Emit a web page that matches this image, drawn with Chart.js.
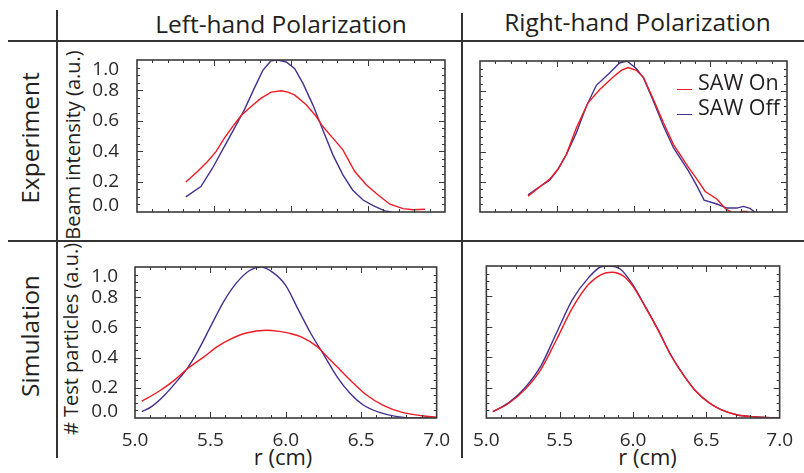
<!DOCTYPE html>
<html><head><meta charset="utf-8">
<script src="https://cdn.jsdelivr.net/npm/chart.js@4/dist/chart.umd.min.js"></script>
<style>
html,body{margin:0;padding:0;background:#fff;}
#wrap{position:relative;width:804px;height:473px;overflow:hidden;font-family:'Open Sans',sans-serif;color:#231f20;}
canvas{position:absolute;}
.ln{position:absolute;background:#333;}
.t{position:absolute;white-space:nowrap;line-height:1;}
.c{transform:translate(-50%,-50%);}
.r{transform:translate(-50%,-50%) rotate(-90deg);}
</style></head><body><div id="wrap">
<div class="ln" style="left:56px;top:10px;width:2px;height:448px"></div>
<div class="ln" style="left:461px;top:13px;width:2px;height:445px"></div>
<div class="ln" style="left:8px;top:40px;width:796px;height:2px"></div>
<div class="ln" style="left:8px;top:240px;width:796px;height:2px"></div>

<div class="t c" style="left:281px;top:24.2px;font-size:24.5px">Left-hand Polarization</div>
<div class="t c" style="left:637.5px;top:21.7px;font-size:24.5px">Right-hand Polarization</div>
<div class="t r" style="left:30px;top:137.5px;font-size:24.5px">Experiment</div>
<div class="t r" style="left:30px;top:336px;font-size:24.5px">Simulation</div>
<div class="t r" style="left:72.5px;top:145px;font-size:20px">Beam intensity (a.u.)</div>
<div class="t r" style="left:70.5px;top:339px;font-size:20px"># Test particles (a.u.)</div>
<div class="t c" style="left:283px;top:456px;font-size:22px">r (cm)</div>
<div class="t c" style="left:647.5px;top:456px;font-size:22px">r (cm)</div>

<canvas id="tl" width="378" height="227" style="left:85px;top:20px"></canvas>
<canvas id="tr" width="339" height="193" style="left:465px;top:39px"></canvas>
<canvas id="bl" width="378" height="226" style="left:83px;top:227px"></canvas>
<canvas id="br" width="342" height="204" style="left:462px;top:244px"></canvas>

<div class="ln" style="left:677px;top:88.5px;width:15px;height:1.5px;background:#ec1c24"></div>
<div class="t" style="left:698px;top:71.4px;font-size:21.5px">SAW On</div>
<div class="ln" style="left:677px;top:113.5px;width:15px;height:1.5px;background:#45308f"></div>
<div class="t" style="left:698px;top:96.1px;font-size:21.5px">SAW Off</div>
</div>
<script>
// ---- data (r in cm, intensity in a.u.) ----
const rTickValues = [5.0, 5.5, 6.0, 6.5, 7.0];
const rTickLabels = ['5.0', '5.5', '6.0', '6.5', '7.0'];
const yTickValues = [0, 0.2, 0.4, 0.6, 0.8, 1.0];
const yTickLabels = ['0.0', '0.2', '0.4', '0.6', '0.8', '1.0'];

// Experiment, left-hand polarization
const expLeftOffR = [5.317, 5.415, 5.49, 5.567, 5.632, 5.697, 5.762, 5.816, 5.87, 5.914, 5.969, 6.023, 6.077, 6.142, 6.207, 6.272, 6.337, 6.40, 6.468, 6.533, 6.609, 6.653];
const expLeftOff  = [0.10, 0.167, 0.288, 0.43, 0.55, 0.672, 0.815, 0.93, 0.995, 1.0, 0.987, 0.945, 0.848, 0.705, 0.54, 0.376, 0.244, 0.145, 0.079, 0.042, 0.007, 0.0];
const expLeftOnR  = [5.317, 5.393, 5.458, 5.513, 5.567, 5.621, 5.676, 5.741, 5.806, 5.871, 5.936, 5.98, 6.023, 6.099, 6.164, 6.207, 6.272, 6.337, 6.414, 6.49, 6.566, 6.642, 6.728, 6.793, 6.87];
const expLeftOn   = [0.198, 0.266, 0.332, 0.397, 0.486, 0.562, 0.635, 0.694, 0.749, 0.789, 0.798, 0.789, 0.77, 0.705, 0.628, 0.562, 0.486, 0.409, 0.266, 0.178, 0.112, 0.051, 0.022, 0.015, 0.018];

// Experiment, right-hand polarization
const expRightOffR = [5.313, 5.367, 5.454, 5.508, 5.563, 5.628, 5.693, 5.758, 5.844, 5.909, 5.957, 6.018, 6.065, 6.13, 6.195, 6.26, 6.358, 6.413, 6.46, 6.543, 6.608, 6.673, 6.716, 6.759, 6.79];
const expRightOff  = [0.114, 0.152, 0.211, 0.283, 0.382, 0.525, 0.70, 0.839, 0.92, 0.987, 1.0, 0.95, 0.888, 0.734, 0.569, 0.426, 0.272, 0.173, 0.079, 0.053, 0.026, 0.026, 0.037, 0.024, 0.0];
const expRightOnR  = [5.313, 5.454, 5.508, 5.563, 5.628, 5.704, 5.78, 5.866, 5.92, 5.964, 6.018, 6.065, 6.13, 6.195, 6.26, 6.358, 6.413, 6.467, 6.543, 6.60, 6.63, 6.67, 6.70, 6.74, 6.77];
const expRightOn   = [0.105, 0.218, 0.283, 0.382, 0.558, 0.723, 0.811, 0.892, 0.938, 0.957, 0.938, 0.892, 0.745, 0.591, 0.448, 0.295, 0.218, 0.136, 0.086, 0.02, 0.004, -0.04, 0.004, 0.004, -0.04];

// Simulation, left-hand polarization
const simLeftOffR = [5.045, 5.11, 5.197, 5.284, 5.349, 5.414, 5.5, 5.586, 5.673, 5.76, 5.836, 5.911, 5.998, 6.08, 6.167, 6.253, 6.34, 6.427, 6.513, 6.621, 6.729, 6.859, 7.0];
const simLeftOff  = [0.042, 0.075, 0.152, 0.251, 0.332, 0.438, 0.603, 0.768, 0.895, 0.977, 1.0, 0.966, 0.88, 0.723, 0.558, 0.416, 0.273, 0.162, 0.086, 0.037, 0.011, 0.0, 0.0];
const simLeftOnR  = [5.045, 5.154, 5.262, 5.349, 5.457, 5.543, 5.63, 5.738, 5.868, 5.955, 6.02, 6.102, 6.21, 6.264, 6.34, 6.427, 6.535, 6.643, 6.773, 6.903, 7.0];
const simLeftOn   = [0.112, 0.174, 0.251, 0.328, 0.405, 0.471, 0.521, 0.563, 0.581, 0.574, 0.562, 0.537, 0.471, 0.416, 0.339, 0.251, 0.152, 0.086, 0.037, 0.015, 0.006];

// Simulation, right-hand polarization
const simRightOffR = [5.044, 5.153, 5.261, 5.37, 5.478, 5.587, 5.696, 5.783, 5.837, 5.913, 5.995, 6.082, 6.17, 6.256, 6.343, 6.43, 6.517, 6.604, 6.713, 6.821, 7.0];
const simRightOff  = [0.042, 0.101, 0.196, 0.339, 0.559, 0.779, 0.922, 0.995, 1.0, 0.98, 0.882, 0.737, 0.583, 0.418, 0.286, 0.176, 0.102, 0.054, 0.02, 0.009, 0.0];
const simRightOnR  = [5.044, 5.153, 5.261, 5.37, 5.478, 5.587, 5.696, 5.783, 5.858, 5.935, 5.995, 6.082, 6.17, 6.256, 6.343, 6.43, 6.517, 6.604, 6.713, 6.821, 7.0];
const simRightOn   = [0.042, 0.097, 0.185, 0.317, 0.515, 0.724, 0.878, 0.944, 0.959, 0.933, 0.872, 0.733, 0.58, 0.416, 0.284, 0.174, 0.101, 0.053, 0.02, 0.009, 0.0];

// ---- styling ----
const RED = '#ec1c24', BLUE = '#45308f', INK = '#2a2a2a';
const FONT = "'Open Sans', sans-serif";
const xMinorStep = 0.1, yMinorStep = 0.05;

const frame = {
  id: 'frame',
  afterDatasetsDraw(chart) {
    const { ctx, chartArea: a, scales: { x, y } } = chart;
    ctx.save();
    ctx.strokeStyle = '#3a3a3a';
    ctx.lineWidth = 1;
    ctx.beginPath();
    const nx = Math.round((x.max - x.min) / xMinorStep);
    for (let i = 1; i < nx; i++) {
      const v = x.min + i * xMinorStep;
      const px = Math.round(x.getPixelForValue(v)) + 0.5;
      const L = (i % 5 === 0) ? 6 : 3;
      ctx.moveTo(px, a.bottom); ctx.lineTo(px, a.bottom - L);
      ctx.moveTo(px, a.top); ctx.lineTo(px, a.top + L);
    }
    const ny = Math.round((y.max - y.min) / yMinorStep);
    for (let i = 1; i < ny; i++) {
      const v = y.min + i * yMinorStep;
      const py = Math.round(y.getPixelForValue(v)) + 0.5;
      const L = (i % 4 === 0) ? 6 : 3;
      ctx.moveTo(a.left, py); ctx.lineTo(a.left + L, py);
      ctx.moveTo(a.right, py); ctx.lineTo(a.right - L, py);
    }
    ctx.stroke();
    ctx.lineWidth = 1.6;
    ctx.strokeRect(a.left, a.top, a.right - a.left, a.bottom - a.top);
    ctx.restore();
  }
};

function pts(rs, vs) { return rs.map((r, i) => ({ x: r, y: vs[i] })); }

function panel(id, onR, on, offR, off, smooth, o) {
  const ds = (label, d, color) => ({
    label, data: d, borderColor: color, backgroundColor: color, borderWidth: 1.4,
    pointRadius: 0, fill: false, tension: 0,
    cubicInterpolationMode: smooth ? 'monotone' : 'default'
  });
  new Chart(document.getElementById(id), {
    type: 'line',
    data: { datasets: [ds('SAW On', pts(onR, on), RED), ds('SAW Off', pts(offR, off), BLUE)] },
    options: {
      responsive: false, animation: false, events: [],
      layout: { padding: { top: o.padTop, right: o.padRight, left: 0, bottom: 0 } },
      plugins: { legend: { display: false }, tooltip: { enabled: false } },
      scales: {
        x: {
          type: 'linear', min: 5, max: 7,
          afterBuildTicks: s => { s.ticks = rTickValues.map(v => ({ value: v })); },
          afterFit: s => { s.height = o.xH; },
          grid: { display: false, drawTicks: false }, border: { display: false },
          ticks: { display: o.xLabels, autoSkip: false, maxRotation: 0, padding: o.xPad, color: INK,
                   font: { family: FONT, size: 19 }, callback: (v, i) => rTickLabels[i] }
        },
        y: {
          type: 'linear', min: 0, max: 1,
          afterBuildTicks: s => { s.ticks = yTickValues.map(v => ({ value: v })); },
          afterFit: s => { s.width = o.yW; },
          grid: { display: false, drawTicks: false }, border: { display: false },
          ticks: { display: o.yLabels, autoSkip: false, padding: o.yPad, color: INK,
                   font: c => ({ family: FONT, size: 19,
                     lineHeight: c.index === yTickValues.length - 1 ? 1.0 : (c.index === 0 ? 0.68 : 1.2) }),
                   callback: (v, i) => i === yTickValues.length - 1 ? ['', yTickLabels[i]]
                                     : (i === 0 ? [yTickLabels[i], ''] : yTickLabels[i]) }
        }
      }
    },
    plugins: [frame]
  });
}

panel('tl', expLeftOnR, expLeftOn, expLeftOffR, expLeftOff, false,
      { padTop: 40, padRight: 18, xH: 35, yW: 52, xLabels: false, yLabels: true, xPad: 9, yPad: 18 });
panel('tr', expRightOnR, expRightOn, expRightOffR, expRightOff, false,
      { padTop: 22, padRight: 17, xH: 20, yW: 15, xLabels: false, yLabels: false, xPad: 9, yPad: 18 });
panel('bl', simLeftOnR, simLeftOn, simLeftOffR, simLeftOff, true,
      { padTop: 40, padRight: 18, xH: 35, yW: 52, xLabels: true, yLabels: true, xPad: 11, yPad: 17 });
panel('br', simRightOnR, simRightOn, simRightOffR, simRightOff, true,
      { padTop: 22, padRight: 19, xH: 30, yW: 15, xLabels: true, yLabels: false, xPad: 11, yPad: 17 });
</script>
</body></html>
